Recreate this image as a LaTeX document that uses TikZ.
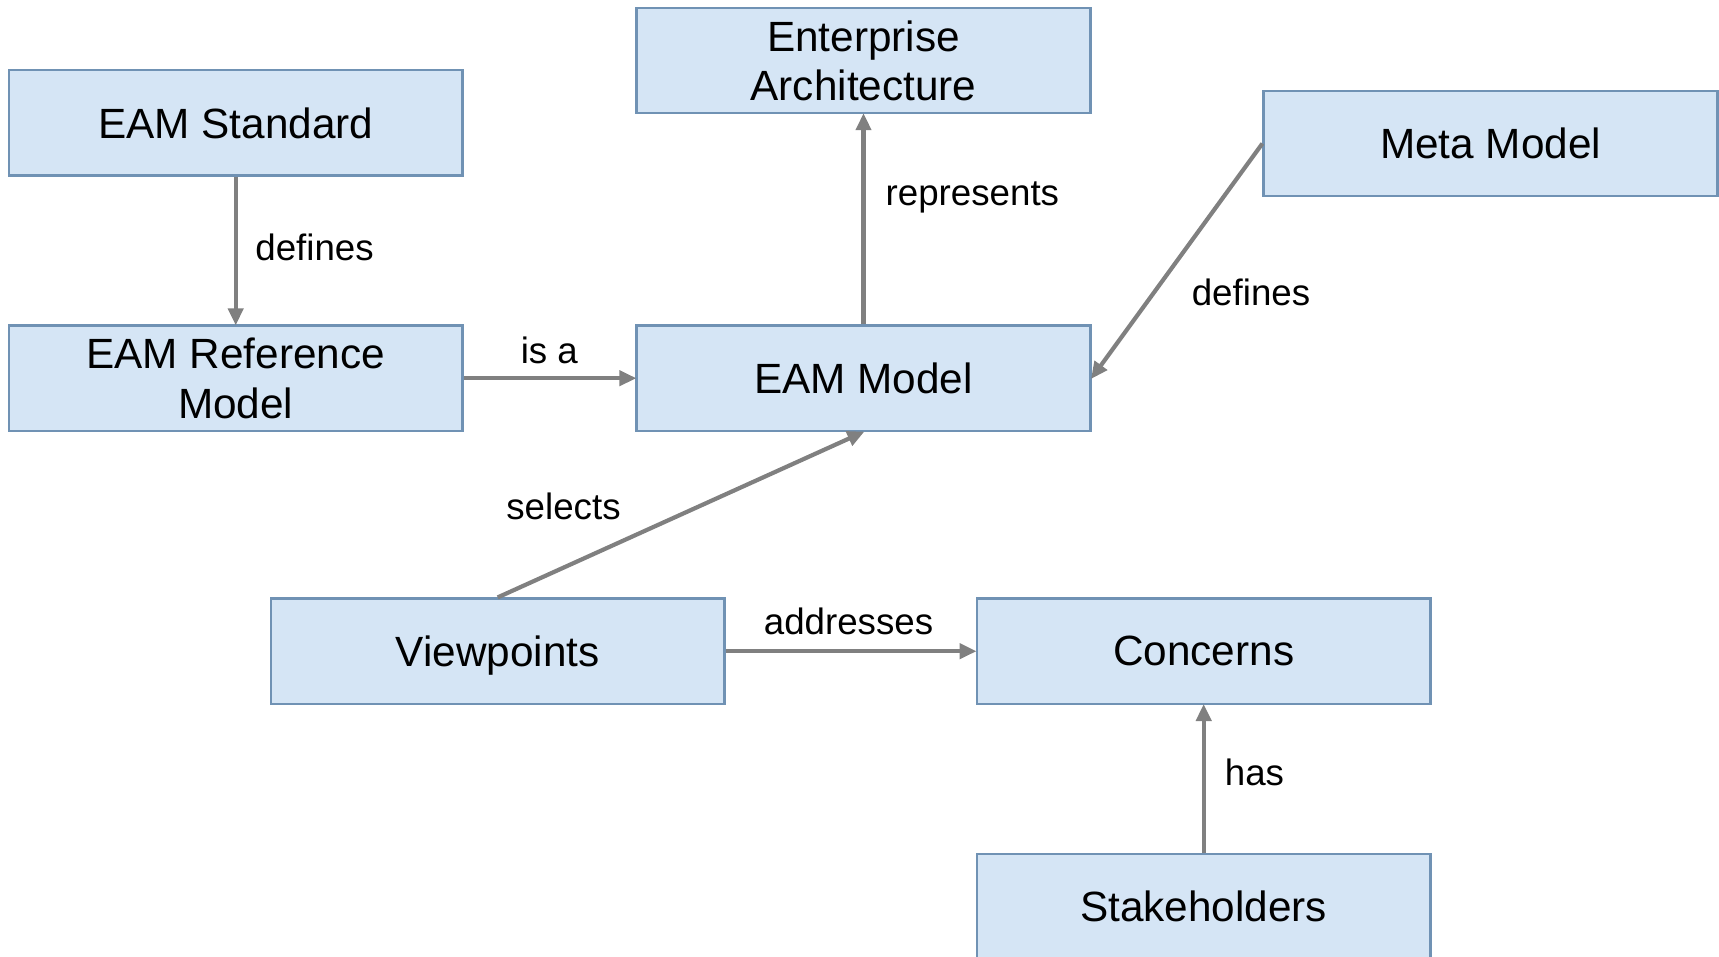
\documentclass[tikz,border=0pt]{standalone}
\usepackage{fontspec}
\setmainfont{Liberation Sans}
\usetikzlibrary{arrows.meta}
\definecolor{boxfill}{HTML}{D5E5F5}
\definecolor{boxline}{HTML}{7092B4}
\definecolor{conn}{HTML}{808080}
\tikzset{
  ebox/.style={draw=boxline, fill=boxfill, line width=2.4pt, minimum width=453.8pt, minimum height=105.2pt, inner sep=0pt, align=center, text depth=-4pt, font=\fontsize{42.3}{49.4}\selectfont},
  link/.style={draw=conn, line width=4.2pt, -{Triangle[length=17pt,width=15pt]}, shorten >=-1pt},
  lbl/.style={anchor=base, inner sep=0pt, font=\fontsize{36.7}{44}\selectfont}
}
\begin{document}
\begin{tikzpicture}[x=1pt,y=-1pt]
\useasboundingbox (0,0) rectangle (1719,957);
\clip (0,0) rectangle (1719,957);
\node[ebox] (std) at (235.7,122.8) {EAM Standard};
\node[ebox] (ea) at (863.5,60.4) {Enterprise\\Architecture};
\node[ebox] (meta) at (1490.5,143.5) {Meta Model};
\node[ebox] (ref) at (235.7,378.2) {EAM Reference\\Model};
\node[ebox] (eam) at (863.5,378.2) {EAM Model};
\node[ebox] (vp) at (497.7,651.2) {Viewpoints};
\node[ebox] (con) at (1203.7,651.2) {Concerns};
\node[ebox] (stk) at (1203.7,906.6) {Stakeholders};

\draw[link] (std.south) -- (ref.north);
\draw[link] (ref.east) -- (eam.west);
\draw[link] (eam.north) -- (ea.south);
\draw[link] (meta.west) -- (eam.east);
\draw[link] (vp.north) -- (eam.south);
\draw[link] (vp.east) -- (con.west);
\draw[link] (stk.north) -- (con.south);

\node[lbl] (l1) at (314.6,260.5) {defines};
\node[lbl] (l2) at (549.3,364) {is a};
\node[lbl] (l3) at (972.4,206) {represents};
\node[lbl] (l4) at (1251,306) {defines};
\node[lbl] (l5) at (563.5,519.6) {selects};
\node[lbl] (l6) at (848.5,634.8) {addresses};
\node[lbl] (l7) at (1254.5,785) {has};
\end{tikzpicture}
\end{document}
